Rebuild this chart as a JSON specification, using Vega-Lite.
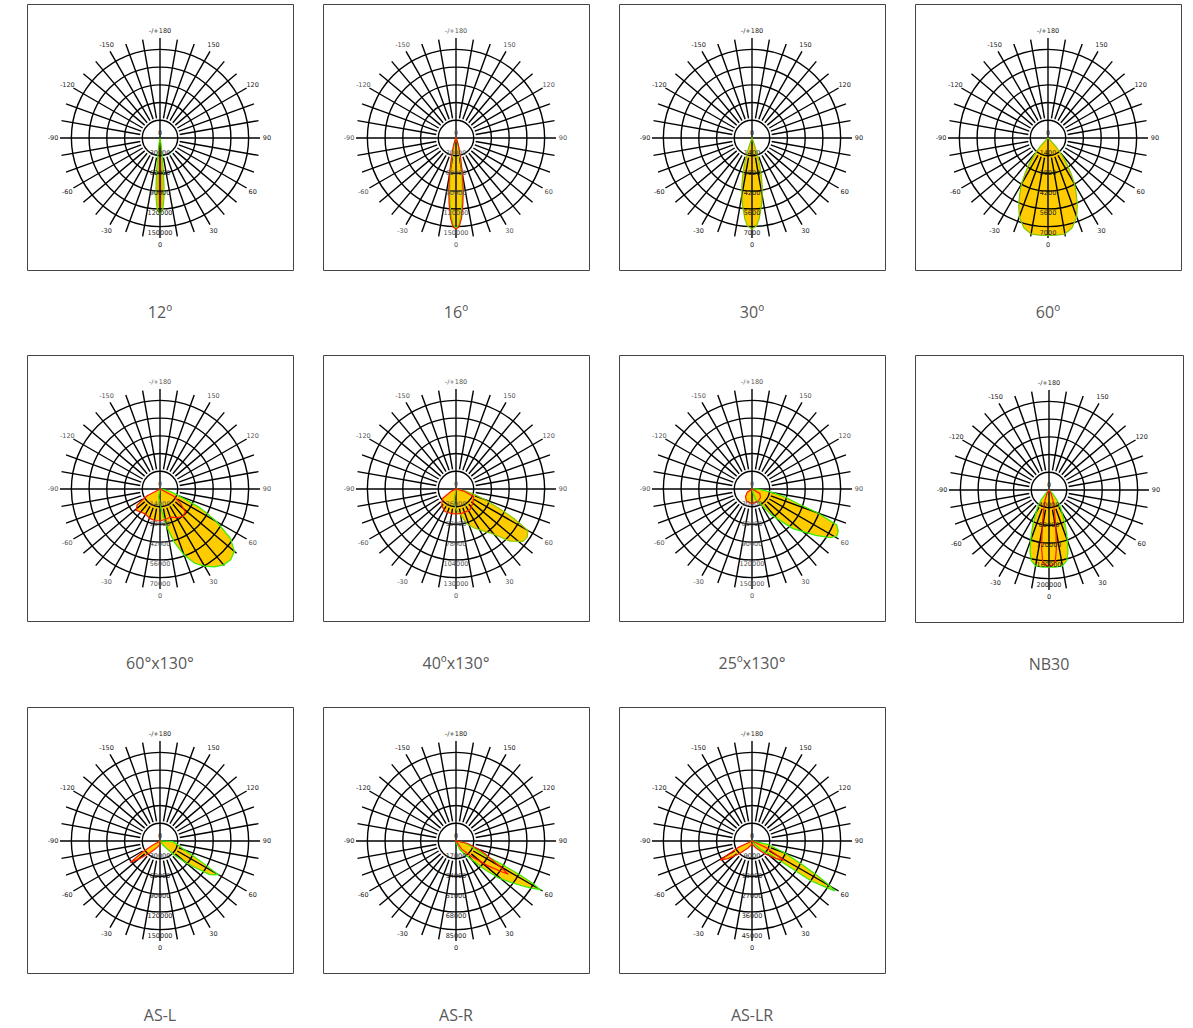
{
"$schema":"https://vega.github.io/schema/vega-lite/v6.json",
"padding":{"left":26,"top":3,"right":5,"bottom":5},
"background":"white",
"config":{"view":{"stroke":"#444","strokeWidth":1},"title":{"orient":"bottom","offset":35,"fontSize":16,"font":"Open Sans","fontWeight":"normal","color":"#595959","anchor":"middle"},"text":{"font":"DejaVu Sans","fontSize":6.5},"rule":{"color":"#000","strokeWidth":1.4},"point":{"color":"#000","strokeWidth":1.4,"opacity":1}},
"spacing":{"row":32,"column":28},
"columns":4,
"datasets":{
"rings":[{"r":20},{"r":40},{"r":60},{"r":80},{"r":100}],
"spokes":[{"a":0,"r0":0},{"a":10,"r0":20},{"a":20,"r0":20},{"a":30,"r0":20},{"a":40,"r0":20},{"a":50,"r0":20},{"a":60,"r0":20},{"a":70,"r0":20},{"a":80,"r0":20},{"a":90,"r0":0},{"a":100,"r0":20},{"a":110,"r0":20},{"a":120,"r0":20},{"a":130,"r0":20},{"a":140,"r0":20},{"a":150,"r0":20},{"a":160,"r0":20},{"a":170,"r0":20},{"a":180,"r0":0},{"a":190,"r0":20},{"a":200,"r0":20},{"a":210,"r0":20},{"a":220,"r0":20},{"a":230,"r0":20},{"a":240,"r0":20},{"a":250,"r0":20},{"a":260,"r0":20},{"a":270,"r0":0},{"a":280,"r0":20},{"a":290,"r0":20},{"a":300,"r0":20},{"a":310,"r0":20},{"a":320,"r0":20},{"a":330,"r0":20},{"a":340,"r0":20},{"a":350,"r0":20}],
"alab":[{"a":0,"t":"0"},{"a":30,"t":"30"},{"a":60,"t":"60"},{"a":90,"t":"90"},{"a":120,"t":"120"},{"a":150,"t":"150"},{"a":180,"t":"-/+180"},{"a":210,"t":"-150"},{"a":240,"t":"-120"},{"a":270,"t":"-90"},{"a":300,"t":"-60"},{"a":330,"t":"-30"}],
"vlab":[
{"p":"12","v":0},{"p":"12","v":30000},{"p":"12","v":60000},{"p":"12","v":90000},{"p":"12","v":120000},{"p":"12","v":150000},
{"p":"16","v":0},{"p":"16","v":30000},{"p":"16","v":60000},{"p":"16","v":90000},{"p":"16","v":120000},{"p":"16","v":150000},
{"p":"30","v":0},{"p":"30","v":1400},{"p":"30","v":2800},{"p":"30","v":4200},{"p":"30","v":5600},{"p":"30","v":7000},
{"p":"60","v":0},{"p":"60","v":1400},{"p":"60","v":2800},{"p":"60","v":4200},{"p":"60","v":5600},{"p":"60","v":7000},
{"p":"60x130","v":0},{"p":"60x130","v":14000},{"p":"60x130","v":28000},{"p":"60x130","v":42000},{"p":"60x130","v":56000},{"p":"60x130","v":70000},
{"p":"40x130","v":0},{"p":"40x130","v":26000},{"p":"40x130","v":52000},{"p":"40x130","v":78000},{"p":"40x130","v":104000},{"p":"40x130","v":130000},
{"p":"25x130","v":0},{"p":"25x130","v":30000},{"p":"25x130","v":60000},{"p":"25x130","v":90000},{"p":"25x130","v":120000},{"p":"25x130","v":150000},
{"p":"NB30","v":0},{"p":"NB30","v":40000},{"p":"NB30","v":80000},{"p":"NB30","v":120000},{"p":"NB30","v":160000},{"p":"NB30","v":200000},
{"p":"ASL","v":0},{"p":"ASL","v":30000},{"p":"ASL","v":60000},{"p":"ASL","v":90000},{"p":"ASL","v":120000},{"p":"ASL","v":150000},
{"p":"ASR","v":0},{"p":"ASR","v":17000},{"p":"ASR","v":34000},{"p":"ASR","v":51000},{"p":"ASR","v":68000},{"p":"ASR","v":85000},
{"p":"ASLR","v":0},{"p":"ASLR","v":9000},{"p":"ASLR","v":18000},{"p":"ASLR","v":27000},{"p":"ASLR","v":36000},{"p":"ASLR","v":45000}],
"curves":[
{"p":"12","pl":"A","a":-14,"v":0},{"p":"12","pl":"A","a":-10,"v":7500},{"p":"12","pl":"A","a":-8,"v":19500},{"p":"12","pl":"A","a":-6,"v":45000},{"p":"12","pl":"A","a":-5,"v":67500},{"p":"12","pl":"A","a":-4,"v":87000},{"p":"12","pl":"A","a":-3,"v":99000},{"p":"12","pl":"A","a":-2,"v":108000},{"p":"12","pl":"A","a":0,"v":114000},{"p":"12","pl":"A","a":2,"v":108000},{"p":"12","pl":"A","a":3,"v":99000},{"p":"12","pl":"A","a":4,"v":87000},{"p":"12","pl":"A","a":5,"v":67500},{"p":"12","pl":"A","a":6,"v":45000},{"p":"12","pl":"A","a":8,"v":19500},{"p":"12","pl":"A","a":10,"v":7500},{"p":"12","pl":"A","a":14,"v":0},
{"p":"12","pl":"B","a":-10,"v":0},{"p":"12","pl":"B","a":-8,"v":4000},{"p":"12","pl":"B","a":-6,"v":15000},{"p":"12","pl":"B","a":-5,"v":30000},{"p":"12","pl":"B","a":-4,"v":52000},{"p":"12","pl":"B","a":-3,"v":78000},{"p":"12","pl":"B","a":-2,"v":100000},{"p":"12","pl":"B","a":0,"v":112000},{"p":"12","pl":"B","a":2,"v":100000},{"p":"12","pl":"B","a":3,"v":78000},{"p":"12","pl":"B","a":4,"v":52000},{"p":"12","pl":"B","a":5,"v":30000},{"p":"12","pl":"B","a":6,"v":15000},{"p":"12","pl":"B","a":8,"v":4000},{"p":"12","pl":"B","a":10,"v":0},
{"p":"16","pl":"B","a":-30,"v":0},{"p":"16","pl":"B","a":-25,"v":3000},{"p":"16","pl":"B","a":-19,"v":10500},{"p":"16","pl":"B","a":-16,"v":18000},{"p":"16","pl":"B","a":-13,"v":31500},{"p":"16","pl":"B","a":-10,"v":57000},{"p":"16","pl":"B","a":-8,"v":78000},{"p":"16","pl":"B","a":-6,"v":99000},{"p":"16","pl":"B","a":-4,"v":120000},{"p":"16","pl":"B","a":-2,"v":133500},{"p":"16","pl":"B","a":0,"v":136500},{"p":"16","pl":"B","a":2,"v":133500},{"p":"16","pl":"B","a":4,"v":120000},{"p":"16","pl":"B","a":6,"v":99000},{"p":"16","pl":"B","a":8,"v":78000},{"p":"16","pl":"B","a":10,"v":57000},{"p":"16","pl":"B","a":13,"v":31500},{"p":"16","pl":"B","a":16,"v":18000},{"p":"16","pl":"B","a":19,"v":10500},{"p":"16","pl":"B","a":25,"v":3000},{"p":"16","pl":"B","a":30,"v":0},
{"p":"16","pl":"A","a":-28,"v":0},{"p":"16","pl":"A","a":-23,"v":2000},{"p":"16","pl":"A","a":-18,"v":8000},{"p":"16","pl":"A","a":-15,"v":15000},{"p":"16","pl":"A","a":-12,"v":27000},{"p":"16","pl":"A","a":-10,"v":47000},{"p":"16","pl":"A","a":-8,"v":68000},{"p":"16","pl":"A","a":-6,"v":90000},{"p":"16","pl":"A","a":-4,"v":113000},{"p":"16","pl":"A","a":-2,"v":130000},{"p":"16","pl":"A","a":0,"v":135000},{"p":"16","pl":"A","a":2,"v":130000},{"p":"16","pl":"A","a":4,"v":113000},{"p":"16","pl":"A","a":6,"v":90000},{"p":"16","pl":"A","a":8,"v":68000},{"p":"16","pl":"A","a":10,"v":47000},{"p":"16","pl":"A","a":12,"v":27000},{"p":"16","pl":"A","a":15,"v":15000},{"p":"16","pl":"A","a":18,"v":8000},{"p":"16","pl":"A","a":23,"v":2000},{"p":"16","pl":"A","a":28,"v":0},
{"p":"30","pl":"A","a":-22,"v":0},{"p":"30","pl":"A","a":-20,"v":350},{"p":"30","pl":"A","a":-18,"v":1050},{"p":"30","pl":"A","a":-16,"v":1960},{"p":"30","pl":"A","a":-14,"v":2660},{"p":"30","pl":"A","a":-12,"v":3430},{"p":"30","pl":"A","a":-10,"v":4060},{"p":"30","pl":"A","a":-8,"v":4760},{"p":"30","pl":"A","a":-5,"v":5700},{"p":"30","pl":"A","a":-3,"v":6160},{"p":"30","pl":"A","a":0,"v":6370},{"p":"30","pl":"A","a":3,"v":6160},{"p":"30","pl":"A","a":5,"v":5700},{"p":"30","pl":"A","a":8,"v":4760},{"p":"30","pl":"A","a":10,"v":4060},{"p":"30","pl":"A","a":12,"v":3430},{"p":"30","pl":"A","a":14,"v":2660},{"p":"30","pl":"A","a":16,"v":1960},{"p":"30","pl":"A","a":18,"v":1050},{"p":"30","pl":"A","a":20,"v":350},{"p":"30","pl":"A","a":22,"v":0},
{"p":"60","pl":"A","a":-48,"v":0},{"p":"60","pl":"A","a":-45,"v":280},{"p":"60","pl":"A","a":-42,"v":840},{"p":"60","pl":"A","a":-39,"v":1540},{"p":"60","pl":"A","a":-36,"v":2240},{"p":"60","pl":"A","a":-33,"v":2940},{"p":"60","pl":"A","a":-30,"v":3710},{"p":"60","pl":"A","a":-27,"v":4340},{"p":"60","pl":"A","a":-24,"v":5040},{"p":"60","pl":"A","a":-20,"v":5880},{"p":"60","pl":"A","a":-15,"v":6510},{"p":"60","pl":"A","a":-10,"v":6825},{"p":"60","pl":"A","a":-5,"v":6825},{"p":"60","pl":"A","a":0,"v":6825},{"p":"60","pl":"A","a":5,"v":6825},{"p":"60","pl":"A","a":10,"v":6825},{"p":"60","pl":"A","a":15,"v":6510},{"p":"60","pl":"A","a":20,"v":5880},{"p":"60","pl":"A","a":24,"v":5040},{"p":"60","pl":"A","a":27,"v":4340},{"p":"60","pl":"A","a":30,"v":3710},{"p":"60","pl":"A","a":33,"v":2940},{"p":"60","pl":"A","a":36,"v":2240},{"p":"60","pl":"A","a":39,"v":1540},{"p":"60","pl":"A","a":42,"v":840},{"p":"60","pl":"A","a":45,"v":280},{"p":"60","pl":"A","a":48,"v":0},
{"p":"60x130","pl":"B","a":-70,"v":0},{"p":"60x130","pl":"B","a":-62,"v":10500},{"p":"60x130","pl":"B","a":-55,"v":19600},{"p":"60x130","pl":"B","a":-48,"v":22400},{"p":"60x130","pl":"B","a":-40,"v":21000},{"p":"60x130","pl":"B","a":-30,"v":20300},{"p":"60x130","pl":"B","a":-20,"v":21700},{"p":"60x130","pl":"B","a":-10,"v":22400},{"p":"60x130","pl":"B","a":0,"v":22400},{"p":"60x130","pl":"B","a":10,"v":21700},{"p":"60x130","pl":"B","a":20,"v":21000},{"p":"60x130","pl":"B","a":30,"v":23100},{"p":"60x130","pl":"B","a":40,"v":25200},{"p":"60x130","pl":"B","a":48,"v":23800},{"p":"60x130","pl":"B","a":55,"v":17500},{"p":"60x130","pl":"B","a":62,"v":10500},{"p":"60x130","pl":"B","a":70,"v":0},
{"p":"60x130","pl":"A","a":-20,"v":0},{"p":"60x130","pl":"A","a":-10,"v":5600},{"p":"60x130","pl":"A","a":0,"v":10500},{"p":"60x130","pl":"A","a":5,"v":16100},{"p":"60x130","pl":"A","a":10,"v":26600},{"p":"60x130","pl":"A","a":15,"v":38500},{"p":"60x130","pl":"A","a":20,"v":49000},{"p":"60x130","pl":"A","a":25,"v":57400},{"p":"60x130","pl":"A","a":30,"v":62300},{"p":"60x130","pl":"A","a":35,"v":66500},{"p":"60x130","pl":"A","a":40,"v":69300},{"p":"60x130","pl":"A","a":45,"v":70000},{"p":"60x130","pl":"A","a":50,"v":67900},{"p":"60x130","pl":"A","a":55,"v":60200},{"p":"60x130","pl":"A","a":60,"v":45500},{"p":"60x130","pl":"A","a":63,"v":36000},{"p":"60x130","pl":"A","a":65,"v":30000},{"p":"60x130","pl":"A","a":70,"v":14000},{"p":"60x130","pl":"A","a":75,"v":8400},{"p":"60x130","pl":"A","a":80,"v":4200},{"p":"60x130","pl":"A","a":85,"v":0},
{"p":"40x130","pl":"B","a":-75,"v":0},{"p":"40x130","pl":"B","a":-65,"v":6500},{"p":"40x130","pl":"B","a":-55,"v":20800},{"p":"40x130","pl":"B","a":-48,"v":24700},{"p":"40x130","pl":"B","a":-40,"v":28600},{"p":"40x130","pl":"B","a":-26,"v":32500},{"p":"40x130","pl":"B","a":-10,"v":32500},{"p":"40x130","pl":"B","a":0,"v":32500},{"p":"40x130","pl":"B","a":15,"v":32500},{"p":"40x130","pl":"B","a":34,"v":32500},{"p":"40x130","pl":"B","a":50,"v":28600},{"p":"40x130","pl":"B","a":60,"v":26000},{"p":"40x130","pl":"B","a":67,"v":24700},{"p":"40x130","pl":"B","a":75,"v":10400},{"p":"40x130","pl":"B","a":85,"v":0},
{"p":"40x130","pl":"A","a":-20,"v":0},{"p":"40x130","pl":"A","a":-10,"v":15600},{"p":"40x130","pl":"A","a":0,"v":26000},{"p":"40x130","pl":"A","a":10,"v":33800},{"p":"40x130","pl":"A","a":17,"v":46800},{"p":"40x130","pl":"A","a":25,"v":55900},{"p":"40x130","pl":"A","a":33,"v":65000},{"p":"40x130","pl":"A","a":40,"v":76700},{"p":"40x130","pl":"A","a":46,"v":97500},{"p":"40x130","pl":"A","a":52,"v":110500},{"p":"40x130","pl":"A","a":56,"v":111800},{"p":"40x130","pl":"A","a":60,"v":107900},{"p":"40x130","pl":"A","a":63,"v":84500},{"p":"40x130","pl":"A","a":66,"v":59800},{"p":"40x130","pl":"A","a":70,"v":39000},{"p":"40x130","pl":"A","a":73,"v":26000},{"p":"40x130","pl":"A","a":78,"v":13000},{"p":"40x130","pl":"A","a":85,"v":0},
{"p":"25x130","pl":"B","a":-70,"v":0},{"p":"25x130","pl":"B","a":-55,"v":9000},{"p":"25x130","pl":"B","a":-40,"v":15000},{"p":"25x130","pl":"B","a":-25,"v":20250},{"p":"25x130","pl":"B","a":0,"v":21750},{"p":"25x130","pl":"B","a":25,"v":21000},{"p":"25x130","pl":"B","a":45,"v":18000},{"p":"25x130","pl":"B","a":60,"v":13500},{"p":"25x130","pl":"B","a":75,"v":0},
{"p":"25x130","pl":"A","a":10,"v":0},{"p":"25x130","pl":"A","a":15,"v":7500},{"p":"25x130","pl":"A","a":20,"v":18000},{"p":"25x130","pl":"A","a":31,"v":28500},{"p":"25x130","pl":"A","a":37,"v":49500},{"p":"25x130","pl":"A","a":46,"v":85500},{"p":"25x130","pl":"A","a":54,"v":118500},{"p":"25x130","pl":"A","a":58,"v":138000},{"p":"25x130","pl":"A","a":61,"v":145500},{"p":"25x130","pl":"A","a":64,"v":144000},{"p":"25x130","pl":"A","a":67,"v":138000},{"p":"25x130","pl":"A","a":70,"v":105000},{"p":"25x130","pl":"A","a":72,"v":75000},{"p":"25x130","pl":"A","a":76,"v":52500},{"p":"25x130","pl":"A","a":80,"v":33000},{"p":"25x130","pl":"A","a":84,"v":18000},{"p":"25x130","pl":"A","a":88,"v":7500},{"p":"25x130","pl":"A","a":92,"v":0},
{"p":"NB30","pl":"A","a":-55,"v":0},{"p":"NB30","pl":"A","a":-45,"v":10000},{"p":"NB30","pl":"A","a":-38,"v":26000},{"p":"NB30","pl":"A","a":-34,"v":40000},{"p":"NB30","pl":"A","a":-30,"v":52000},{"p":"NB30","pl":"A","a":-25,"v":76000},{"p":"NB30","pl":"A","a":-22,"v":94000},{"p":"NB30","pl":"A","a":-19,"v":114000},{"p":"NB30","pl":"A","a":-17,"v":130000},{"p":"NB30","pl":"A","a":-14,"v":146000},{"p":"NB30","pl":"A","a":-10,"v":154000},{"p":"NB30","pl":"A","a":-5,"v":155000},{"p":"NB30","pl":"A","a":0,"v":154000},{"p":"NB30","pl":"A","a":5,"v":155000},{"p":"NB30","pl":"A","a":10,"v":154000},{"p":"NB30","pl":"A","a":14,"v":146000},{"p":"NB30","pl":"A","a":17,"v":130000},{"p":"NB30","pl":"A","a":19,"v":114000},{"p":"NB30","pl":"A","a":22,"v":94000},{"p":"NB30","pl":"A","a":25,"v":76000},{"p":"NB30","pl":"A","a":30,"v":52000},{"p":"NB30","pl":"A","a":34,"v":40000},{"p":"NB30","pl":"A","a":38,"v":26000},{"p":"NB30","pl":"A","a":45,"v":10000},{"p":"NB30","pl":"A","a":55,"v":0},
{"p":"NB30","pl":"B","a":-40,"v":0},{"p":"NB30","pl":"B","a":-30,"v":8000},{"p":"NB30","pl":"B","a":-22,"v":20000},{"p":"NB30","pl":"B","a":-16,"v":36000},{"p":"NB30","pl":"B","a":-12,"v":60000},{"p":"NB30","pl":"B","a":-9,"v":90000},{"p":"NB30","pl":"B","a":-7,"v":120000},{"p":"NB30","pl":"B","a":-5,"v":144000},{"p":"NB30","pl":"B","a":-3,"v":150000},{"p":"NB30","pl":"B","a":0,"v":152000},{"p":"NB30","pl":"B","a":3,"v":150000},{"p":"NB30","pl":"B","a":5,"v":144000},{"p":"NB30","pl":"B","a":7,"v":120000},{"p":"NB30","pl":"B","a":9,"v":90000},{"p":"NB30","pl":"B","a":12,"v":60000},{"p":"NB30","pl":"B","a":16,"v":36000},{"p":"NB30","pl":"B","a":22,"v":20000},{"p":"NB30","pl":"B","a":30,"v":8000},{"p":"NB30","pl":"B","a":40,"v":0},
{"p":"ASL","pl":"A","a":30,"v":0},{"p":"ASL","pl":"A","a":35,"v":6000},{"p":"ASL","pl":"A","a":41,"v":13500},{"p":"ASL","pl":"A","a":45,"v":28500},{"p":"ASL","pl":"A","a":50,"v":49500},{"p":"ASL","pl":"A","a":53,"v":67500},{"p":"ASL","pl":"A","a":56,"v":90000},{"p":"ASL","pl":"A","a":58,"v":96000},{"p":"ASL","pl":"A","a":60,"v":100500},{"p":"ASL","pl":"A","a":62,"v":79500},{"p":"ASL","pl":"A","a":65,"v":58500},{"p":"ASL","pl":"A","a":70,"v":39000},{"p":"ASL","pl":"A","a":78,"v":27000},{"p":"ASL","pl":"A","a":87,"v":19500},{"p":"ASL","pl":"A","a":92,"v":0},
{"p":"ASL","pl":"B","a":-65,"v":0},{"p":"ASL","pl":"B","a":-60,"v":15000},{"p":"ASL","pl":"B","a":-57,"v":33000},{"p":"ASL","pl":"B","a":-54,"v":55000},{"p":"ASL","pl":"B","a":-51,"v":45000},{"p":"ASL","pl":"B","a":-48,"v":37500},{"p":"ASL","pl":"B","a":-40,"v":22500},{"p":"ASL","pl":"B","a":-30,"v":13500},{"p":"ASL","pl":"B","a":-20,"v":9000},{"p":"ASL","pl":"B","a":-10,"v":6000},{"p":"ASL","pl":"B","a":0,"v":4500},{"p":"ASL","pl":"B","a":10,"v":0},
{"p":"ASR","pl":"A","a":-5,"v":0},{"p":"ASR","pl":"A","a":10,"v":1700},{"p":"ASR","pl":"A","a":25,"v":8500},{"p":"ASR","pl":"A","a":35,"v":15300},{"p":"ASR","pl":"A","a":38,"v":17850},{"p":"ASR","pl":"A","a":45,"v":34000},{"p":"ASR","pl":"A","a":49,"v":47600},{"p":"ASR","pl":"A","a":53,"v":58650},{"p":"ASR","pl":"A","a":56,"v":68425},{"p":"ASR","pl":"A","a":58,"v":75650},{"p":"ASR","pl":"A","a":60,"v":82450},{"p":"ASR","pl":"A","a":61,"v":75000},{"p":"ASR","pl":"A","a":62,"v":62000},{"p":"ASR","pl":"A","a":63,"v":45000},{"p":"ASR","pl":"A","a":64,"v":28000},{"p":"ASR","pl":"A","a":66,"v":20000},{"p":"ASR","pl":"A","a":72,"v":12750},{"p":"ASR","pl":"A","a":78,"v":7225},{"p":"ASR","pl":"A","a":88,"v":0},
{"p":"ASR","pl":"B","a":20,"v":0},{"p":"ASR","pl":"B","a":35,"v":8500},{"p":"ASR","pl":"B","a":45,"v":18700},{"p":"ASR","pl":"B","a":52,"v":34000},{"p":"ASR","pl":"B","a":56,"v":46750},{"p":"ASR","pl":"B","a":57.5,"v":52700},{"p":"ASR","pl":"B","a":60,"v":42500},{"p":"ASR","pl":"B","a":62,"v":35700},{"p":"ASR","pl":"B","a":66,"v":27200},{"p":"ASR","pl":"B","a":70,"v":20400},{"p":"ASR","pl":"B","a":78,"v":10200},{"p":"ASR","pl":"B","a":88,"v":0},
{"p":"ASLR","pl":"A","a":30,"v":0},{"p":"ASLR","pl":"A","a":40,"v":2700},{"p":"ASLR","pl":"A","a":48,"v":6300},{"p":"ASLR","pl":"A","a":54,"v":11250},{"p":"ASLR","pl":"A","a":56,"v":31950},{"p":"ASLR","pl":"A","a":58,"v":39600},{"p":"ASLR","pl":"A","a":59,"v":43650},{"p":"ASLR","pl":"A","a":60,"v":40500},{"p":"ASLR","pl":"A","a":62,"v":33750},{"p":"ASLR","pl":"A","a":65,"v":24300},{"p":"ASLR","pl":"A","a":70,"v":15500},{"p":"ASLR","pl":"A","a":78,"v":7200},{"p":"ASLR","pl":"A","a":88,"v":0},
{"p":"ASLR","pl":"B","a":-75,"v":0},{"p":"ASLR","pl":"B","a":-65,"v":6750},{"p":"ASLR","pl":"B","a":-59,"v":16650},{"p":"ASLR","pl":"B","a":-54,"v":13500},{"p":"ASLR","pl":"B","a":-45,"v":8100},{"p":"ASLR","pl":"B","a":-30,"v":3600},{"p":"ASLR","pl":"B","a":0,"v":1350},{"p":"ASLR","pl":"B","a":30,"v":3600},{"p":"ASLR","pl":"B","a":45,"v":8100},{"p":"ASLR","pl":"B","a":54,"v":13500},{"p":"ASLR","pl":"B","a":59,"v":16650},{"p":"ASLR","pl":"B","a":65,"v":6750},{"p":"ASLR","pl":"B","a":75,"v":0}
]},
"concat":[
{"title":"12º","width":266,"height":266,
"encoding":{"x":{"field":"x","type":"quantitative","scale":{"domain":[-133,133],"nice":false,"zero":false},"axis":null},"y":{"field":"y","type":"quantitative","scale":{"domain":[-132,134],"nice":false,"zero":false},"axis":null}},
"layer":[
{"data":{"name":"curves"},"transform":[{"filter":"datum.p=='12' && datum.pl=='A'"},{"calculate":"datum.v/1500*sin(datum.a*PI/180)","as":"x"},{"calculate":"-datum.v/1500*cos(datum.a*PI/180)","as":"y"}],"mark":{"type":"line","interpolate":"linear-closed","fill":"#FFCC00","strokeWidth":0},"encoding":{"order":{"field":"a","type":"quantitative"}}},
{"data":{"name":"curves"},"transform":[{"filter":"datum.p=='12' && datum.pl=='B'"},{"calculate":"datum.v/1500*sin(datum.a*PI/180)","as":"x"},{"calculate":"-datum.v/1500*cos(datum.a*PI/180)","as":"y"}],"mark":{"type":"line","interpolate":"linear-closed","fill":"#EFA300","strokeWidth":0},"encoding":{"order":{"field":"a","type":"quantitative"}}},
{"data":{"name":"rings"},"transform":[{"calculate":"0","as":"x"},{"calculate":"0","as":"y"}],"mark":{"type":"point","shape":"circle","filled":false},"encoding":{"size":{"field":"r","type":"quantitative","scale":{"type":"pow","exponent":2,"domain":[0,100],"range":[0,31416]},"legend":null}}},
{"data":{"name":"spokes"},"transform":[{"calculate":"datum.r0*sin(datum.a*PI/180)","as":"x"},{"calculate":"-datum.r0*cos(datum.a*PI/180)","as":"y"},{"calculate":"100*sin(datum.a*PI/180)","as":"x2"},{"calculate":"-100*cos(datum.a*PI/180)","as":"y2"}],"mark":{"type":"rule"},"encoding":{"x2":{"field":"x2"},"y2":{"field":"y2"}}},
{"data":{"name":"curves"},"transform":[{"filter":"datum.p=='12' && datum.pl=='A'"},{"calculate":"datum.v/1500*sin(datum.a*PI/180)","as":"x"},{"calculate":"-datum.v/1500*cos(datum.a*PI/180)","as":"y"}],"mark":{"type":"line","interpolate":"linear-closed","color":"#55DD00","strokeWidth":1.2},"encoding":{"order":{"field":"a","type":"quantitative"}}},
{"data":{"name":"alab"},"transform":[{"calculate":"107*sin(datum.a*PI/180)","as":"x"},{"calculate":"-107*cos(datum.a*PI/180)","as":"y"}],"mark":{"type":"text","color":"#222"},"encoding":{"text":{"field":"t"}}},
{"data":{"name":"vlab"},"transform":[{"filter":"datum.p=='12'"},{"calculate":"0","as":"x"},{"calculate":"-datum.v/1500","as":"y"}],"mark":{"type":"text","dy":-5,"color":"#222"},"encoding":{"text":{"field":"v","type":"quantitative","format":"d"}}}
]},
{"title":"16º","width":266,"height":266,
"encoding":{"x":{"field":"x","type":"quantitative","scale":{"domain":[-133,133],"nice":false,"zero":false},"axis":null},"y":{"field":"y","type":"quantitative","scale":{"domain":[-132,134],"nice":false,"zero":false},"axis":null}},
"layer":[
{"data":{"name":"curves"},"transform":[{"filter":"datum.p=='16'"},{"calculate":"datum.v/1500*sin(datum.a*PI/180)","as":"x"},{"calculate":"-datum.v/1500*cos(datum.a*PI/180)","as":"y"}],"mark":{"type":"line","interpolate":"linear-closed","fill":"#FFCC00","strokeWidth":0},"encoding":{"detail":{"field":"pl"},"order":{"field":"a","type":"quantitative"}}},
{"data":{"name":"rings"},"transform":[{"calculate":"0","as":"x"},{"calculate":"0","as":"y"}],"mark":{"type":"point","shape":"circle","filled":false},"encoding":{"size":{"field":"r","type":"quantitative","scale":{"type":"pow","exponent":2,"domain":[0,100],"range":[0,31416]},"legend":null}}},
{"data":{"name":"spokes"},"transform":[{"calculate":"datum.r0*sin(datum.a*PI/180)","as":"x"},{"calculate":"-datum.r0*cos(datum.a*PI/180)","as":"y"},{"calculate":"100*sin(datum.a*PI/180)","as":"x2"},{"calculate":"-100*cos(datum.a*PI/180)","as":"y2"}],"mark":{"type":"rule"},"encoding":{"x2":{"field":"x2"},"y2":{"field":"y2"}}},
{"data":{"name":"curves"},"transform":[{"filter":"datum.p=='16' && datum.pl=='A'"},{"calculate":"datum.v/1500*sin(datum.a*PI/180)","as":"x"},{"calculate":"-datum.v/1500*cos(datum.a*PI/180)","as":"y"}],"mark":{"type":"line","interpolate":"linear-closed","color":"#55DD00","strokeWidth":1.2},"encoding":{"order":{"field":"a","type":"quantitative"}}},
{"data":{"name":"curves"},"transform":[{"filter":"datum.p=='16' && datum.pl=='B'"},{"calculate":"datum.v/1500*sin(datum.a*PI/180)","as":"x"},{"calculate":"-datum.v/1500*cos(datum.a*PI/180)","as":"y"}],"mark":{"type":"line","interpolate":"linear-closed","color":"#FF1A00","strokeWidth":1.2},"encoding":{"order":{"field":"a","type":"quantitative"}}},
{"data":{"name":"alab"},"transform":[{"calculate":"107*sin(datum.a*PI/180)","as":"x"},{"calculate":"-107*cos(datum.a*PI/180)","as":"y"}],"mark":{"type":"text","color":"#555"},"encoding":{"text":{"field":"t"}}},
{"data":{"name":"vlab"},"transform":[{"filter":"datum.p=='16'"},{"calculate":"0","as":"x"},{"calculate":"-datum.v/1500","as":"y"}],"mark":{"type":"text","dy":-5,"color":"#555"},"encoding":{"text":{"field":"v","type":"quantitative","format":"d"}}}
]},
{"title":"30º","width":266,"height":266,
"encoding":{"x":{"field":"x","type":"quantitative","scale":{"domain":[-133,133],"nice":false,"zero":false},"axis":null},"y":{"field":"y","type":"quantitative","scale":{"domain":[-132,134],"nice":false,"zero":false},"axis":null}},
"layer":[
{"data":{"name":"curves"},"transform":[{"filter":"datum.p=='30'"},{"calculate":"datum.v/70*sin(datum.a*PI/180)","as":"x"},{"calculate":"-datum.v/70*cos(datum.a*PI/180)","as":"y"}],"mark":{"type":"line","interpolate":"linear-closed","fill":"#FFCC00","strokeWidth":0},"encoding":{"detail":{"field":"pl"},"order":{"field":"a","type":"quantitative"}}},
{"data":{"name":"rings"},"transform":[{"calculate":"0","as":"x"},{"calculate":"0","as":"y"}],"mark":{"type":"point","shape":"circle","filled":false},"encoding":{"size":{"field":"r","type":"quantitative","scale":{"type":"pow","exponent":2,"domain":[0,100],"range":[0,31416]},"legend":null}}},
{"data":{"name":"spokes"},"transform":[{"calculate":"datum.r0*sin(datum.a*PI/180)","as":"x"},{"calculate":"-datum.r0*cos(datum.a*PI/180)","as":"y"},{"calculate":"100*sin(datum.a*PI/180)","as":"x2"},{"calculate":"-100*cos(datum.a*PI/180)","as":"y2"}],"mark":{"type":"rule"},"encoding":{"x2":{"field":"x2"},"y2":{"field":"y2"}}},
{"data":{"name":"curves"},"transform":[{"filter":"datum.p=='30' && datum.pl=='A'"},{"calculate":"datum.v/70*sin(datum.a*PI/180)","as":"x"},{"calculate":"-datum.v/70*cos(datum.a*PI/180)","as":"y"}],"mark":{"type":"line","interpolate":"linear-closed","color":"#7CC800","strokeWidth":1.2},"encoding":{"order":{"field":"a","type":"quantitative"}}},
{"data":{"name":"alab"},"transform":[{"calculate":"107*sin(datum.a*PI/180)","as":"x"},{"calculate":"-107*cos(datum.a*PI/180)","as":"y"}],"mark":{"type":"text","color":"#222"},"encoding":{"text":{"field":"t"}}},
{"data":{"name":"vlab"},"transform":[{"filter":"datum.p=='30'"},{"calculate":"0","as":"x"},{"calculate":"-datum.v/70","as":"y"}],"mark":{"type":"text","dy":-5,"color":"#222"},"encoding":{"text":{"field":"v","type":"quantitative","format":"d"}}}
]},
{"title":"60º","width":266,"height":266,
"encoding":{"x":{"field":"x","type":"quantitative","scale":{"domain":[-133,133],"nice":false,"zero":false},"axis":null},"y":{"field":"y","type":"quantitative","scale":{"domain":[-132,134],"nice":false,"zero":false},"axis":null}},
"layer":[
{"data":{"name":"curves"},"transform":[{"filter":"datum.p=='60'"},{"calculate":"datum.v/70*sin(datum.a*PI/180)","as":"x"},{"calculate":"-datum.v/70*cos(datum.a*PI/180)","as":"y"}],"mark":{"type":"line","interpolate":"linear-closed","fill":"#FFCC00","strokeWidth":0},"encoding":{"detail":{"field":"pl"},"order":{"field":"a","type":"quantitative"}}},
{"data":{"name":"rings"},"transform":[{"calculate":"0","as":"x"},{"calculate":"0","as":"y"}],"mark":{"type":"point","shape":"circle","filled":false},"encoding":{"size":{"field":"r","type":"quantitative","scale":{"type":"pow","exponent":2,"domain":[0,100],"range":[0,31416]},"legend":null}}},
{"data":{"name":"spokes"},"transform":[{"calculate":"datum.r0*sin(datum.a*PI/180)","as":"x"},{"calculate":"-datum.r0*cos(datum.a*PI/180)","as":"y"},{"calculate":"100*sin(datum.a*PI/180)","as":"x2"},{"calculate":"-100*cos(datum.a*PI/180)","as":"y2"}],"mark":{"type":"rule"},"encoding":{"x2":{"field":"x2"},"y2":{"field":"y2"}}},
{"data":{"name":"curves"},"transform":[{"filter":"datum.p=='60' && datum.pl=='A'"},{"calculate":"datum.v/70*sin(datum.a*PI/180)","as":"x"},{"calculate":"-datum.v/70*cos(datum.a*PI/180)","as":"y"}],"mark":{"type":"line","interpolate":"linear-closed","color":"#7CC800","strokeWidth":1.2},"encoding":{"order":{"field":"a","type":"quantitative"}}},
{"data":{"name":"alab"},"transform":[{"calculate":"107*sin(datum.a*PI/180)","as":"x"},{"calculate":"-107*cos(datum.a*PI/180)","as":"y"}],"mark":{"type":"text","color":"#222"},"encoding":{"text":{"field":"t"}}},
{"data":{"name":"vlab"},"transform":[{"filter":"datum.p=='60'"},{"calculate":"0","as":"x"},{"calculate":"-datum.v/70","as":"y"}],"mark":{"type":"text","dy":-5,"color":"#222"},"encoding":{"text":{"field":"v","type":"quantitative","format":"d"}}}
]},
{"title":"60°x130°","width":266,"height":266,
"encoding":{"x":{"field":"x","type":"quantitative","scale":{"domain":[-133,133],"nice":false,"zero":false},"axis":null},"y":{"field":"y","type":"quantitative","scale":{"domain":[-132,134],"nice":false,"zero":false},"axis":null}},
"layer":[
{"data":{"name":"curves"},"transform":[{"filter":"datum.p=='60x130'"},{"calculate":"datum.v/700*sin(datum.a*PI/180)","as":"x"},{"calculate":"-datum.v/700*cos(datum.a*PI/180)","as":"y"}],"mark":{"type":"line","interpolate":"linear-closed","fill":"#FFCC00","strokeWidth":0},"encoding":{"detail":{"field":"pl"},"order":{"field":"a","type":"quantitative"}}},
{"data":{"name":"rings"},"transform":[{"calculate":"0","as":"x"},{"calculate":"0","as":"y"}],"mark":{"type":"point","shape":"circle","filled":false},"encoding":{"size":{"field":"r","type":"quantitative","scale":{"type":"pow","exponent":2,"domain":[0,100],"range":[0,31416]},"legend":null}}},
{"data":{"name":"spokes"},"transform":[{"calculate":"datum.r0*sin(datum.a*PI/180)","as":"x"},{"calculate":"-datum.r0*cos(datum.a*PI/180)","as":"y"},{"calculate":"100*sin(datum.a*PI/180)","as":"x2"},{"calculate":"-100*cos(datum.a*PI/180)","as":"y2"}],"mark":{"type":"rule"},"encoding":{"x2":{"field":"x2"},"y2":{"field":"y2"}}},
{"data":{"name":"curves"},"transform":[{"filter":"datum.p=='60x130' && datum.pl=='A'"},{"calculate":"datum.v/700*sin(datum.a*PI/180)","as":"x"},{"calculate":"-datum.v/700*cos(datum.a*PI/180)","as":"y"}],"mark":{"type":"line","interpolate":"linear-closed","color":"#33EE00","strokeWidth":1.2},"encoding":{"order":{"field":"a","type":"quantitative"}}},
{"data":{"name":"curves"},"transform":[{"filter":"datum.p=='60x130' && datum.pl=='B'"},{"calculate":"datum.v/700*sin(datum.a*PI/180)","as":"x"},{"calculate":"-datum.v/700*cos(datum.a*PI/180)","as":"y"}],"mark":{"type":"line","interpolate":"linear-closed","color":"#FF1A00","strokeWidth":1.2},"encoding":{"order":{"field":"a","type":"quantitative"}}},
{"data":{"name":"alab"},"transform":[{"calculate":"107*sin(datum.a*PI/180)","as":"x"},{"calculate":"-107*cos(datum.a*PI/180)","as":"y"}],"mark":{"type":"text","color":"#555"},"encoding":{"text":{"field":"t"}}},
{"data":{"name":"vlab"},"transform":[{"filter":"datum.p=='60x130'"},{"calculate":"0","as":"x"},{"calculate":"-datum.v/700","as":"y"}],"mark":{"type":"text","dy":-5,"color":"#555"},"encoding":{"text":{"field":"v","type":"quantitative","format":"d"}}}
]},
{"title":"40ºx130°","width":266,"height":266,
"encoding":{"x":{"field":"x","type":"quantitative","scale":{"domain":[-133,133],"nice":false,"zero":false},"axis":null},"y":{"field":"y","type":"quantitative","scale":{"domain":[-132,134],"nice":false,"zero":false},"axis":null}},
"layer":[
{"data":{"name":"curves"},"transform":[{"filter":"datum.p=='40x130'"},{"calculate":"datum.v/1300*sin(datum.a*PI/180)","as":"x"},{"calculate":"-datum.v/1300*cos(datum.a*PI/180)","as":"y"}],"mark":{"type":"line","interpolate":"linear-closed","fill":"#FFCC00","strokeWidth":0},"encoding":{"detail":{"field":"pl"},"order":{"field":"a","type":"quantitative"}}},
{"data":{"name":"rings"},"transform":[{"calculate":"0","as":"x"},{"calculate":"0","as":"y"}],"mark":{"type":"point","shape":"circle","filled":false},"encoding":{"size":{"field":"r","type":"quantitative","scale":{"type":"pow","exponent":2,"domain":[0,100],"range":[0,31416]},"legend":null}}},
{"data":{"name":"spokes"},"transform":[{"calculate":"datum.r0*sin(datum.a*PI/180)","as":"x"},{"calculate":"-datum.r0*cos(datum.a*PI/180)","as":"y"},{"calculate":"100*sin(datum.a*PI/180)","as":"x2"},{"calculate":"-100*cos(datum.a*PI/180)","as":"y2"}],"mark":{"type":"rule"},"encoding":{"x2":{"field":"x2"},"y2":{"field":"y2"}}},
{"data":{"name":"curves"},"transform":[{"filter":"datum.p=='40x130' && datum.pl=='A'"},{"calculate":"datum.v/1300*sin(datum.a*PI/180)","as":"x"},{"calculate":"-datum.v/1300*cos(datum.a*PI/180)","as":"y"}],"mark":{"type":"line","interpolate":"linear-closed","color":"#88CC00","strokeWidth":1.2},"encoding":{"order":{"field":"a","type":"quantitative"}}},
{"data":{"name":"curves"},"transform":[{"filter":"datum.p=='40x130' && datum.pl=='B'"},{"calculate":"datum.v/1300*sin(datum.a*PI/180)","as":"x"},{"calculate":"-datum.v/1300*cos(datum.a*PI/180)","as":"y"}],"mark":{"type":"line","interpolate":"linear-closed","color":"#FF1A00","strokeWidth":1.2},"encoding":{"order":{"field":"a","type":"quantitative"}}},
{"data":{"name":"alab"},"transform":[{"calculate":"107*sin(datum.a*PI/180)","as":"x"},{"calculate":"-107*cos(datum.a*PI/180)","as":"y"}],"mark":{"type":"text","color":"#555"},"encoding":{"text":{"field":"t"}}},
{"data":{"name":"vlab"},"transform":[{"filter":"datum.p=='40x130'"},{"calculate":"0","as":"x"},{"calculate":"-datum.v/1300","as":"y"}],"mark":{"type":"text","dy":-5,"color":"#555"},"encoding":{"text":{"field":"v","type":"quantitative","format":"d"}}}
]},
{"title":"25ºx130°","width":266,"height":266,
"encoding":{"x":{"field":"x","type":"quantitative","scale":{"domain":[-133,133],"nice":false,"zero":false},"axis":null},"y":{"field":"y","type":"quantitative","scale":{"domain":[-132,134],"nice":false,"zero":false},"axis":null}},
"layer":[
{"data":{"name":"curves"},"transform":[{"filter":"datum.p=='25x130'"},{"calculate":"datum.v/1500*sin(datum.a*PI/180)","as":"x"},{"calculate":"-datum.v/1500*cos(datum.a*PI/180)","as":"y"}],"mark":{"type":"line","interpolate":"linear-closed","fill":"#FFCC00","strokeWidth":0},"encoding":{"detail":{"field":"pl"},"order":{"field":"a","type":"quantitative"}}},
{"data":{"name":"rings"},"transform":[{"calculate":"0","as":"x"},{"calculate":"0","as":"y"}],"mark":{"type":"point","shape":"circle","filled":false},"encoding":{"size":{"field":"r","type":"quantitative","scale":{"type":"pow","exponent":2,"domain":[0,100],"range":[0,31416]},"legend":null}}},
{"data":{"name":"spokes"},"transform":[{"calculate":"datum.r0*sin(datum.a*PI/180)","as":"x"},{"calculate":"-datum.r0*cos(datum.a*PI/180)","as":"y"},{"calculate":"100*sin(datum.a*PI/180)","as":"x2"},{"calculate":"-100*cos(datum.a*PI/180)","as":"y2"}],"mark":{"type":"rule"},"encoding":{"x2":{"field":"x2"},"y2":{"field":"y2"}}},
{"data":{"name":"curves"},"transform":[{"filter":"datum.p=='25x130' && datum.pl=='A'"},{"calculate":"datum.v/1500*sin(datum.a*PI/180)","as":"x"},{"calculate":"-datum.v/1500*cos(datum.a*PI/180)","as":"y"}],"mark":{"type":"line","interpolate":"linear-closed","color":"#33EE00","strokeWidth":1.2},"encoding":{"order":{"field":"a","type":"quantitative"}}},
{"data":{"name":"curves"},"transform":[{"filter":"datum.p=='25x130' && datum.pl=='B'"},{"calculate":"datum.v/1500*sin(datum.a*PI/180)","as":"x"},{"calculate":"-datum.v/1500*cos(datum.a*PI/180)","as":"y"}],"mark":{"type":"line","interpolate":"linear-closed","color":"#FF1A00","strokeWidth":1.2},"encoding":{"order":{"field":"a","type":"quantitative"}}},
{"data":{"name":"alab"},"transform":[{"calculate":"107*sin(datum.a*PI/180)","as":"x"},{"calculate":"-107*cos(datum.a*PI/180)","as":"y"}],"mark":{"type":"text","color":"#555"},"encoding":{"text":{"field":"t"}}},
{"data":{"name":"vlab"},"transform":[{"filter":"datum.p=='25x130'"},{"calculate":"0","as":"x"},{"calculate":"-datum.v/1500","as":"y"}],"mark":{"type":"text","dy":-5,"color":"#555"},"encoding":{"text":{"field":"v","type":"quantitative","format":"d"}}}
]},
{"title":"NB30","width":268,"height":267,
"encoding":{"x":{"field":"x","type":"quantitative","scale":{"domain":[-134,134],"nice":false,"zero":false},"axis":null},"y":{"field":"y","type":"quantitative","scale":{"domain":[-132,135],"nice":false,"zero":false},"axis":null}},
"layer":[
{"data":{"name":"curves"},"transform":[{"filter":"datum.p=='NB30'"},{"calculate":"datum.v/2000*sin(datum.a*PI/180)","as":"x"},{"calculate":"-datum.v/2000*cos(datum.a*PI/180)","as":"y"}],"mark":{"type":"line","interpolate":"linear-closed","fill":"#FFCC00","strokeWidth":0},"encoding":{"detail":{"field":"pl"},"order":{"field":"a","type":"quantitative"}}},
{"data":{"name":"rings"},"transform":[{"calculate":"0","as":"x"},{"calculate":"0","as":"y"}],"mark":{"type":"point","shape":"circle","filled":false},"encoding":{"size":{"field":"r","type":"quantitative","scale":{"type":"pow","exponent":2,"domain":[0,100],"range":[0,31416]},"legend":null}}},
{"data":{"name":"spokes"},"transform":[{"calculate":"datum.r0*sin(datum.a*PI/180)","as":"x"},{"calculate":"-datum.r0*cos(datum.a*PI/180)","as":"y"},{"calculate":"100*sin(datum.a*PI/180)","as":"x2"},{"calculate":"-100*cos(datum.a*PI/180)","as":"y2"}],"mark":{"type":"rule"},"encoding":{"x2":{"field":"x2"},"y2":{"field":"y2"}}},
{"data":{"name":"curves"},"transform":[{"filter":"datum.p=='NB30' && datum.pl=='A'"},{"calculate":"datum.v/2000*sin(datum.a*PI/180)","as":"x"},{"calculate":"-datum.v/2000*cos(datum.a*PI/180)","as":"y"}],"mark":{"type":"line","interpolate":"linear-closed","color":"#33EE00","strokeWidth":1.2},"encoding":{"order":{"field":"a","type":"quantitative"}}},
{"data":{"name":"curves"},"transform":[{"filter":"datum.p=='NB30' && datum.pl=='B'"},{"calculate":"datum.v/2000*sin(datum.a*PI/180)","as":"x"},{"calculate":"-datum.v/2000*cos(datum.a*PI/180)","as":"y"}],"mark":{"type":"line","interpolate":"linear-closed","color":"#FF1A00","strokeWidth":1.2},"encoding":{"order":{"field":"a","type":"quantitative"}}},
{"data":{"name":"alab"},"transform":[{"calculate":"107*sin(datum.a*PI/180)","as":"x"},{"calculate":"-107*cos(datum.a*PI/180)","as":"y"}],"mark":{"type":"text","color":"#222"},"encoding":{"text":{"field":"t"}}},
{"data":{"name":"vlab"},"transform":[{"filter":"datum.p=='NB30'"},{"calculate":"0","as":"x"},{"calculate":"-datum.v/2000","as":"y"}],"mark":{"type":"text","dy":-5,"color":"#222"},"encoding":{"text":{"field":"v","type":"quantitative","format":"d"}}}
]},
{"title":"AS-L","width":266,"height":266,
"encoding":{"x":{"field":"x","type":"quantitative","scale":{"domain":[-133,133],"nice":false,"zero":false},"axis":null},"y":{"field":"y","type":"quantitative","scale":{"domain":[-132,134],"nice":false,"zero":false},"axis":null}},
"layer":[
{"data":{"name":"curves"},"transform":[{"filter":"datum.p=='ASL'"},{"calculate":"datum.v/1500*sin(datum.a*PI/180)","as":"x"},{"calculate":"-datum.v/1500*cos(datum.a*PI/180)","as":"y"}],"mark":{"type":"line","interpolate":"linear-closed","fill":"#FFCC00","strokeWidth":0},"encoding":{"detail":{"field":"pl"},"order":{"field":"a","type":"quantitative"}}},
{"data":{"name":"rings"},"transform":[{"calculate":"0","as":"x"},{"calculate":"0","as":"y"}],"mark":{"type":"point","shape":"circle","filled":false},"encoding":{"size":{"field":"r","type":"quantitative","scale":{"type":"pow","exponent":2,"domain":[0,100],"range":[0,31416]},"legend":null}}},
{"data":{"name":"spokes"},"transform":[{"calculate":"datum.r0*sin(datum.a*PI/180)","as":"x"},{"calculate":"-datum.r0*cos(datum.a*PI/180)","as":"y"},{"calculate":"100*sin(datum.a*PI/180)","as":"x2"},{"calculate":"-100*cos(datum.a*PI/180)","as":"y2"}],"mark":{"type":"rule"},"encoding":{"x2":{"field":"x2"},"y2":{"field":"y2"}}},
{"data":{"name":"curves"},"transform":[{"filter":"datum.p=='ASL' && datum.pl=='A'"},{"calculate":"datum.v/1500*sin(datum.a*PI/180)","as":"x"},{"calculate":"-datum.v/1500*cos(datum.a*PI/180)","as":"y"}],"mark":{"type":"line","interpolate":"linear-closed","color":"#33EE00","strokeWidth":1.2},"encoding":{"order":{"field":"a","type":"quantitative"}}},
{"data":{"name":"curves"},"transform":[{"filter":"datum.p=='ASL' && datum.pl=='B'"},{"calculate":"datum.v/1500*sin(datum.a*PI/180)","as":"x"},{"calculate":"-datum.v/1500*cos(datum.a*PI/180)","as":"y"}],"mark":{"type":"line","interpolate":"linear-closed","color":"#FF1A00","strokeWidth":1.2},"encoding":{"order":{"field":"a","type":"quantitative"}}},
{"data":{"name":"alab"},"transform":[{"calculate":"107*sin(datum.a*PI/180)","as":"x"},{"calculate":"-107*cos(datum.a*PI/180)","as":"y"}],"mark":{"type":"text","color":"#222"},"encoding":{"text":{"field":"t"}}},
{"data":{"name":"vlab"},"transform":[{"filter":"datum.p=='ASL'"},{"calculate":"0","as":"x"},{"calculate":"-datum.v/1500","as":"y"}],"mark":{"type":"text","dy":-5,"color":"#222"},"encoding":{"text":{"field":"v","type":"quantitative","format":"d"}}}
]},
{"title":"AS-R","width":266,"height":266,
"encoding":{"x":{"field":"x","type":"quantitative","scale":{"domain":[-133,133],"nice":false,"zero":false},"axis":null},"y":{"field":"y","type":"quantitative","scale":{"domain":[-132,134],"nice":false,"zero":false},"axis":null}},
"layer":[
{"data":{"name":"curves"},"transform":[{"filter":"datum.p=='ASR'"},{"calculate":"datum.v/850*sin(datum.a*PI/180)","as":"x"},{"calculate":"-datum.v/850*cos(datum.a*PI/180)","as":"y"}],"mark":{"type":"line","interpolate":"linear-closed","fill":"#FFCC00","strokeWidth":0},"encoding":{"detail":{"field":"pl"},"order":{"field":"a","type":"quantitative"}}},
{"data":{"name":"rings"},"transform":[{"calculate":"0","as":"x"},{"calculate":"0","as":"y"}],"mark":{"type":"point","shape":"circle","filled":false},"encoding":{"size":{"field":"r","type":"quantitative","scale":{"type":"pow","exponent":2,"domain":[0,100],"range":[0,31416]},"legend":null}}},
{"data":{"name":"spokes"},"transform":[{"calculate":"datum.r0*sin(datum.a*PI/180)","as":"x"},{"calculate":"-datum.r0*cos(datum.a*PI/180)","as":"y"},{"calculate":"100*sin(datum.a*PI/180)","as":"x2"},{"calculate":"-100*cos(datum.a*PI/180)","as":"y2"}],"mark":{"type":"rule"},"encoding":{"x2":{"field":"x2"},"y2":{"field":"y2"}}},
{"data":{"name":"curves"},"transform":[{"filter":"datum.p=='ASR' && datum.pl=='A'"},{"calculate":"datum.v/850*sin(datum.a*PI/180)","as":"x"},{"calculate":"-datum.v/850*cos(datum.a*PI/180)","as":"y"}],"mark":{"type":"line","interpolate":"linear-closed","color":"#33EE00","strokeWidth":1.2},"encoding":{"order":{"field":"a","type":"quantitative"}}},
{"data":{"name":"curves"},"transform":[{"filter":"datum.p=='ASR' && datum.pl=='B'"},{"calculate":"datum.v/850*sin(datum.a*PI/180)","as":"x"},{"calculate":"-datum.v/850*cos(datum.a*PI/180)","as":"y"}],"mark":{"type":"line","interpolate":"linear-closed","color":"#FF1A00","strokeWidth":1.2},"encoding":{"order":{"field":"a","type":"quantitative"}}},
{"data":{"name":"alab"},"transform":[{"calculate":"107*sin(datum.a*PI/180)","as":"x"},{"calculate":"-107*cos(datum.a*PI/180)","as":"y"}],"mark":{"type":"text","color":"#222"},"encoding":{"text":{"field":"t"}}},
{"data":{"name":"vlab"},"transform":[{"filter":"datum.p=='ASR'"},{"calculate":"0","as":"x"},{"calculate":"-datum.v/850","as":"y"}],"mark":{"type":"text","dy":-5,"color":"#222"},"encoding":{"text":{"field":"v","type":"quantitative","format":"d"}}}
]},
{"title":"AS-LR","width":266,"height":266,
"encoding":{"x":{"field":"x","type":"quantitative","scale":{"domain":[-133,133],"nice":false,"zero":false},"axis":null},"y":{"field":"y","type":"quantitative","scale":{"domain":[-132,134],"nice":false,"zero":false},"axis":null}},
"layer":[
{"data":{"name":"curves"},"transform":[{"filter":"datum.p=='ASLR'"},{"calculate":"datum.v/450*sin(datum.a*PI/180)","as":"x"},{"calculate":"-datum.v/450*cos(datum.a*PI/180)","as":"y"}],"mark":{"type":"line","interpolate":"linear-closed","fill":"#FFCC00","strokeWidth":0},"encoding":{"detail":{"field":"pl"},"order":{"field":"a","type":"quantitative"}}},
{"data":{"name":"rings"},"transform":[{"calculate":"0","as":"x"},{"calculate":"0","as":"y"}],"mark":{"type":"point","shape":"circle","filled":false},"encoding":{"size":{"field":"r","type":"quantitative","scale":{"type":"pow","exponent":2,"domain":[0,100],"range":[0,31416]},"legend":null}}},
{"data":{"name":"spokes"},"transform":[{"calculate":"datum.r0*sin(datum.a*PI/180)","as":"x"},{"calculate":"-datum.r0*cos(datum.a*PI/180)","as":"y"},{"calculate":"100*sin(datum.a*PI/180)","as":"x2"},{"calculate":"-100*cos(datum.a*PI/180)","as":"y2"}],"mark":{"type":"rule"},"encoding":{"x2":{"field":"x2"},"y2":{"field":"y2"}}},
{"data":{"name":"curves"},"transform":[{"filter":"datum.p=='ASLR' && datum.pl=='A'"},{"calculate":"datum.v/450*sin(datum.a*PI/180)","as":"x"},{"calculate":"-datum.v/450*cos(datum.a*PI/180)","as":"y"}],"mark":{"type":"line","interpolate":"linear-closed","color":"#33EE00","strokeWidth":1.2},"encoding":{"order":{"field":"a","type":"quantitative"}}},
{"data":{"name":"curves"},"transform":[{"filter":"datum.p=='ASLR' && datum.pl=='B'"},{"calculate":"datum.v/450*sin(datum.a*PI/180)","as":"x"},{"calculate":"-datum.v/450*cos(datum.a*PI/180)","as":"y"}],"mark":{"type":"line","interpolate":"linear-closed","color":"#FF1A00","strokeWidth":1.2},"encoding":{"order":{"field":"a","type":"quantitative"}}},
{"data":{"name":"alab"},"transform":[{"calculate":"107*sin(datum.a*PI/180)","as":"x"},{"calculate":"-107*cos(datum.a*PI/180)","as":"y"}],"mark":{"type":"text","color":"#222"},"encoding":{"text":{"field":"t"}}},
{"data":{"name":"vlab"},"transform":[{"filter":"datum.p=='ASLR'"},{"calculate":"0","as":"x"},{"calculate":"-datum.v/450","as":"y"}],"mark":{"type":"text","dy":-5,"color":"#222"},"encoding":{"text":{"field":"v","type":"quantitative","format":"d"}}}
]}
]
}
